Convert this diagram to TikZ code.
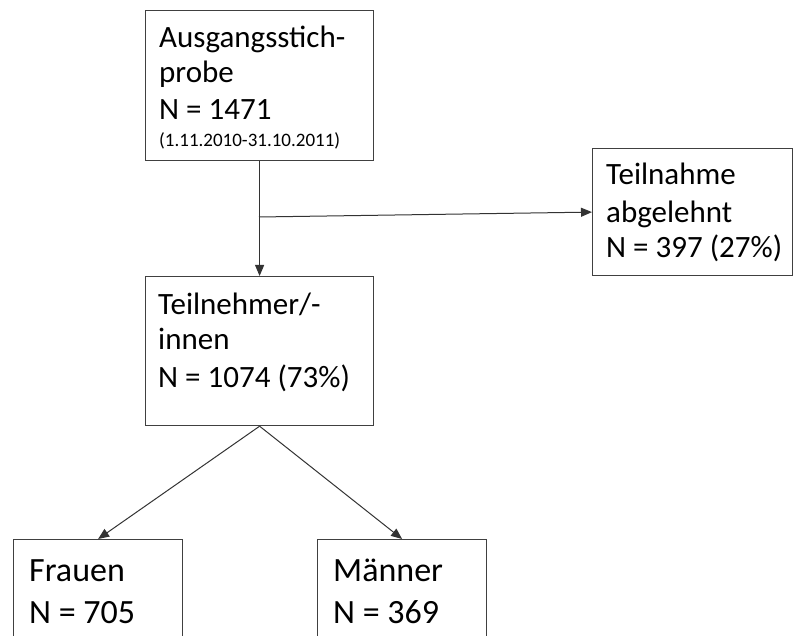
\documentclass[tikz,border=0pt]{standalone}
\usepackage{fontspec}
\setmainfont{Carlito}
\usetikzlibrary{arrows.meta}
\begin{document}
\begin{tikzpicture}[x=1pt,y=-1pt,
  box/.style={draw=black!75,line width=1.2pt,rectangle,inner sep=0pt,anchor=north west},
  txt/.style={anchor=base west,inner sep=0pt,font=\fontsize{31}{37}\selectfont},
  big/.style={anchor=base west,inner sep=0pt,font=\fontsize{34}{41}\selectfont},
  small/.style={anchor=base west,inner sep=0pt,font=\fontsize{19}{23}\selectfont},
  conn/.style={draw=black!80,line width=1pt,-{Triangle[length=11pt,width=9pt]}}]
\useasboundingbox (0,0) rectangle (796,636);
\begin{scope}
\clip (0,0) rectangle (796,636);
% boxes
\node[box,minimum width=228pt,minimum height=150pt] (top) at (145,10) {};
\node[box,minimum width=200pt,minimum height=127pt] (abg) at (592,148) {};
\node[box,minimum width=228pt,minimum height=149pt] (teil) at (145,276) {};
\node[box,minimum width=169pt,minimum height=110pt] (fr) at (13,539) {};
\node[box,minimum width=169pt,minimum height=110pt] (ma) at (317,539) {};
\end{scope}
% texts
\node[txt] (t1) at (159,48) {Ausgangsstich-};
\node[txt] (t2) at (159,83) {probe};
\node[txt] (t3) at (159,120) {N = 1471};
\node[small] (t4) at (159,147) {(1.11.2010-31.10.2011)};
\node[txt] (a1) at (606,185) {Teilnahme};
\node[txt] (a2) at (606,223) {abgelehnt};
\node[txt] (a3) at (606,258) {N = 397 (27\%)};
\node[txt] (p1) at (158,315) {Teilnehmer/-};
\node[txt] (p2) at (158,350) {innen};
\node[txt] (p3) at (158,388) {N = 1074 (73\%)};
\node[big] (f1) at (29,581) {Frauen};
\node[big] (f2) at (29,623) {N = 705};
\node[big] (m1) at (333,581) {Männer};
\node[big] (m2) at (333,623) {N = 369};
% connectors
\coordinate (br) at (259,217);
\draw[conn] (top.south) -- (teil.north);
\draw[conn] (br) -- (abg.west);
\draw[conn] (teil.south) -- (fr.north);
\draw[conn] (teil.south) -- (ma.north);
\end{tikzpicture}
\end{document}
